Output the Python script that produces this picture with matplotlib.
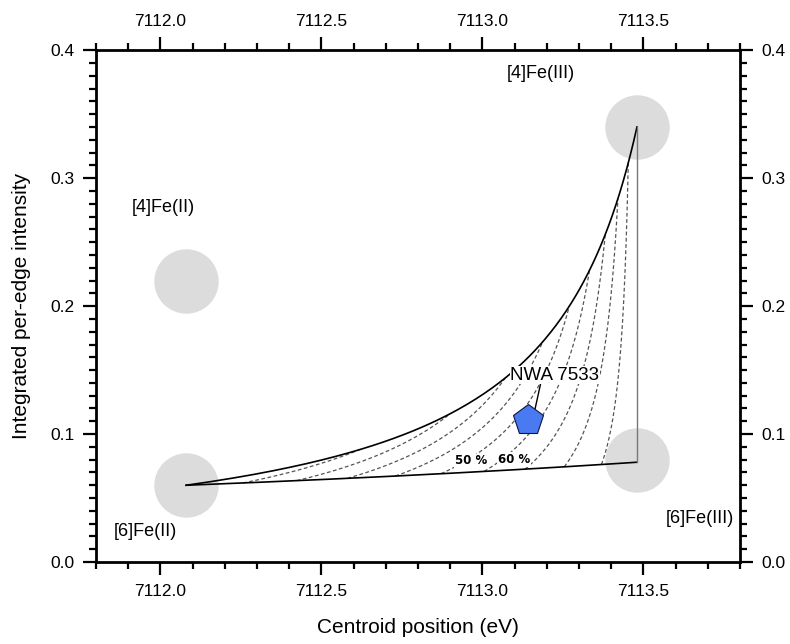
import numpy as np
import matplotlib
matplotlib.use('Agg')
import matplotlib.pyplot as plt
from matplotlib.ticker import MultipleLocator

plt.rcParams['font.family'] = ['Liberation Sans', 'DejaVu Sans']

# end members: centroid (eV), integrated intensity
names = ['[6]Fe(II)', '[4]Fe(II)', '[6]Fe(III)', '[4]Fe(III)']
centroid = [7112.08, 7112.08, 7113.48, 7113.48]
intensity = [0.06, 0.22, 0.078, 0.34]
circle_y = [0.06, 0.22, 0.08, 0.34]
label_x = [7111.952, 7112.008, 7113.676, 7113.182]
label_y = [0.024, 0.277, 0.034, 0.382]

# Fe3+/sum Fe fractions for iso-redox lines
fe3_frac = [0.1, 0.2, 0.3, 0.4, 0.5, 0.6, 0.7, 0.8, 0.9]
pct_labels = ['50 %', '60 %']
pct_x = [7112.965, 7113.098]
pct_y = [0.079, 0.080]

# sample
sample_name = 'NWA 7533'
sample_x = [7113.143]
sample_y = [0.111]
sample_label_x = 7113.225
sample_label_y = 0.146


def mix(f, t):
    # f: Fe3+ fraction, t: fraction of Fe3+ in 4-fold coordination
    wA = 1 - f
    wB = f * (1 - t)
    wC = f * t
    I = wA * intensity[0] + wB * intensity[2] + wC * intensity[3]
    E = (wA * intensity[0] * centroid[0] + wB * intensity[2] * centroid[2]
         + wC * intensity[3] * centroid[3]) / I
    return E, I


fig = plt.figure(figsize=(7.9, 6.44), dpi=100)
ax = fig.add_axes([0.1215, 0.1273, 0.8152, 0.7947])

# grey circles
ax.scatter(centroid, circle_y, s=2150, color='#dcdcdc', zorder=1, linewidths=0)

# mixing lines
s = np.linspace(0, 1, 200)
E_up, I_up = mix(s, 1.0)
E_lo, I_lo = mix(s, 0.0)
ax.plot(E_up, I_up, color='black', lw=1.2, zorder=3)
ax.plot(E_lo, I_lo, color='black', lw=1.2, zorder=3)
ax.plot([centroid[2], centroid[3]], [intensity[2], intensity[3]], color='#777777', lw=1.0, zorder=3)

for f in fe3_frac:
    E, I = mix(f, s)
    ax.plot(E, I, color='#555555', lw=0.9, ls=(0, (3, 2)), zorder=2)

for lab, x, y in zip(pct_labels, pct_x, pct_y):
    ax.text(x, y, lab, fontsize=8.5, fontweight='bold', ha='center', va='center', zorder=4,
            family=['DejaVu Sans'],
            bbox=dict(facecolor='white', edgecolor='none', pad=0.5))

for lab, x, y in zip(names, label_x, label_y):
    ax.text(x, y, lab, fontsize=13, ha='center', va='center')

# sample
ax.plot(sample_x, sample_y, marker='p', markersize=23, markerfacecolor='#4a7af2',
        markeredgecolor='#10183a', markeredgewidth=0.8, ls='none', zorder=5)
ax.annotate(sample_name, xy=(sample_x[0] + 0.02, sample_y[0] + 0.008),
            xytext=(sample_label_x, sample_label_y), fontsize=13.5, ha='center', va='center',
            bbox=dict(facecolor='white', edgecolor='none', pad=0.3),
            arrowprops=dict(arrowstyle='-', color='black', lw=1.0,
                            relpos=(0.34, 0.0), shrinkA=0, shrinkB=0),
            zorder=4)

ax.set_xlim(7111.8, 7113.8)
ax.set_ylim(0, 0.4)
ax.xaxis.set_major_locator(MultipleLocator(0.5))
ax.xaxis.set_minor_locator(MultipleLocator(0.1))
ax.yaxis.set_major_locator(MultipleLocator(0.1))
ax.yaxis.set_minor_locator(MultipleLocator(0.01))
ax.xaxis.set_major_formatter(matplotlib.ticker.FormatStrFormatter('%.1f'))
ax.yaxis.set_major_formatter(matplotlib.ticker.FormatStrFormatter('%.1f'))
ax.tick_params(which='both', direction='out', top=True, right=True,
               labeltop=True, labelright=True, width=1.6, labelsize=12.5)
ax.tick_params(which='major', length=9.5, pad=6)
ax.tick_params(which='minor', length=5)
for sp in ax.spines.values():
    sp.set_linewidth(2.0)

ax.set_xlabel('Centroid position (eV)', fontsize=15, labelpad=14)
ax.set_ylabel('Integrated per-edge intensity', fontsize=15, labelpad=14)

fig.savefig('out.png', dpi=100)
